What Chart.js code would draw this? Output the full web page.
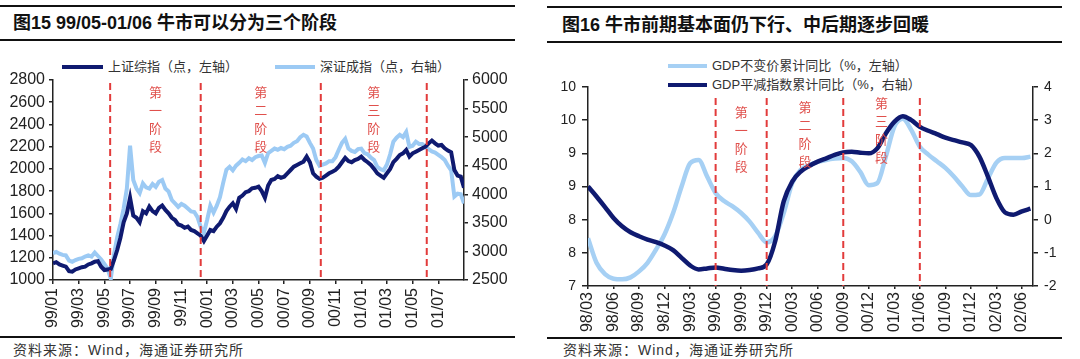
<!DOCTYPE html>
<html>
<head>
<meta charset="utf-8">
<script src="https://cdn.jsdelivr.net/npm/chart.js@4"></script>
<style>
  body { margin:0; width:1080px; height:359px; background:#fff; position:relative; overflow:hidden;
         font-family:"Liberation Sans","Noto Sans CJK SC",sans-serif; }
  .rule { position:absolute; height:2px; background:#111; }
  .title { position:absolute; font-size:18px; font-weight:bold; color:#111; white-space:nowrap; line-height:20px; }
  .source { position:absolute; font-size:14px; color:#333; letter-spacing:1px; white-space:nowrap; line-height:16px; }
  .legend { position:absolute; font-size:13px; color:#333; white-space:nowrap; line-height:16px; display:flex; align-items:center; }
  .legend i { display:inline-block; height:4px; margin-right:5px; }
  canvas { position:absolute; }
</style>
</head>
<body>
<div class="rule" style="left:0;top:5px;width:515px"></div>
<div class="rule" style="left:0;top:39px;width:515px"></div>
<div class="rule" style="left:0;top:336px;width:515px"></div>
<div class="title" style="left:13px;top:13px">图15 99/05-01/06 牛市可以分为三个阶段</div>
<div class="source" style="left:13px;top:342px">资料来源：Wind，海通证券研究所</div>
<div class="legend" style="left:62px;top:59px"><i style="width:41px;background:#0f1a70"></i>上证综指（点，左轴）</div>
<div class="legend" style="left:275px;top:59px"><i style="width:40px;background:#9ccaf4"></i>深证成指（点，右轴）</div>

<div class="rule" style="left:547px;top:6px;width:515px"></div>
<div class="rule" style="left:547px;top:41px;width:515px"></div>
<div class="rule" style="left:547px;top:337px;width:515px"></div>
<div class="title" style="left:562px;top:15px">图16 牛市前期基本面仍下行、中后期逐步回暖</div>
<div class="source" style="left:563px;top:342px">资料来源：Wind，海通证券研究所</div>
<div class="legend" style="left:668px;top:58px"><i style="width:39px;background:#a6d0f4"></i>GDP不变价累计同比（%，左轴）</div>
<div class="legend" style="left:668px;top:77px"><i style="width:39px;background:#0f1a70"></i>GDP平减指数累计同比（%，右轴）</div>

<canvas id="marketChart" width="540" height="292" style="left:0;top:44px"></canvas>
<canvas id="gdpChart" width="535" height="292" style="left:545px;top:44px"></canvas>

<script>
// ---- chart 15: index levels, one value every quarter month from 99/01 ----
const shTicks = ['99/01','99/03','99/05','99/07','99/09','99/11','00/01','00/03','00/05','00/07','00/09','00/11','01/01','01/03','01/05','01/07'];
const shStep = 0.25;
const shComposite = [
  1150,1160,1140,1130, 1120,1080,1075,1095, 1105,1115,1120,1140, 1150,1165,1170,1120,
  1090,1095,1100,1180, 1270,1380,1520,1600, 1740,1580,1560,1520, 1620,1600,1660,1620,
  1600,1650,1670,1630, 1600,1560,1540,1500, 1490,1470,1480,1450, 1440,1420,1400,1350,
  1400,1450,1440,1480, 1510,1560,1620,1660, 1690,1640,1740,1760, 1790,1800,1825,1830,
  1840,1800,1740,1850, 1900,1910,1935,1920, 1930,1960,1990,2020, 2035,2050,2065,2110,
  2060,1960,1930,1910, 1920,1940,1960,1975, 1990,2020,2060,2100, 2070,2060,2080,2090,
  2110,2080,2060,2035, 2000,1960,1940,1920, 1960,2000,2060,2090, 2125,2140,2170,2110,
  2140,2155,2170,2185, 2200,2230,2255,2230, 2210,2215,2185,2165, 2150,1990,1940,1930,
  1830
];
const szComponent = [
  2970,2990,2960,2940, 2930,2840,2820,2850, 2870,2880,2910,2930, 2910,2980,2920,2860,
  2780,2700,2520,2950, 3250,3480,3750,4100, 4850,4250,4100,4020, 4190,4120,4100,4180,
  4130,4220,4250,4100, 4050,3900,3840,3780, 3830,3800,3750,3700, 3690,3600,3430,3330,
  3550,3800,3680,3800, 3950,4200,4430,4480, 4420,4500,4550,4610, 4580,4630,4600,4650,
  4670,4680,4550,4720, 4760,4800,4780,4810, 4790,4830,4850,4900, 4930,5000,5040,5010,
  4900,4800,4600,4500, 4520,4540,4580,4580, 4650,4780,4900,4970, 4800,4760,4740,4790,
  4800,4720,4700,4640, 4600,4480,4440,4420, 4520,4700,4920,4990, 5040,5000,5090,4830,
  4850,4920,4880,4880, 4830,4790,4750,4730, 4690,4650,4600,4500, 4420,3960,4010,4000,
  3840
];
const marketStageMonths = [4.45, 11.5, 20.85, 29.1];

// ---- chart 16: cumulative GDP growth, monthly from 98/03 ----
const gdpTicks = ['98/03','98/06','98/09','98/12','99/03','99/06','99/09','99/12','00/03','00/06','00/09','00/12','01/03','01/06','01/09','01/12','02/03','02/06'];
const gdpLeftTicks = ['7','8','8','9','9','10','10'];
const gdpReal = [
  7.72,7.35,7.18,7.11,7.1,7.13,7.22,7.35,7.55,7.78,
  8.1,8.5,8.85,8.9,8.65,8.4,8.28,8.2,8.1,7.97,
  7.8,7.66,7.75,8.1,8.55,8.75,8.82,8.87,8.9,8.92,
  8.93,8.88,8.72,8.52,8.55,8.95,9.4,9.52,9.35,9.1,
  8.98,8.88,8.78,8.65,8.5,8.37,8.38,8.62,8.86,8.93,
  8.93,8.93,8.95
];
const gdpDeflator = [
  1.0,0.7,0.38,0.05,-0.2,-0.38,-0.5,-0.6,-0.68,-0.78,
  -0.92,-1.15,-1.38,-1.5,-1.47,-1.44,-1.48,-1.52,-1.54,-1.52,
  -1.47,-1.35,-0.65,0.55,1.15,1.45,1.62,1.75,1.85,1.95,
  2.03,2.05,2.02,2.0,2.15,2.6,2.95,3.12,3.0,2.8,
  2.68,2.58,2.47,2.4,2.33,2.25,1.9,1.3,0.65,0.22,
  0.15,0.25,0.33
];
const gdpStageMonths = [15, 21, 30, 39];
const stageNames = ['第一阶段', '第二阶段', '第三阶段'];

const DARK = '#0f1a70';
const AXIS = '#222';
const tickFont = { family: '"Liberation Sans", Arial, sans-serif', size: 16 };

// red dashed separators plus the vertical stage captions
const stagePlugin = {
  id: 'stages',
  afterDatasetsDraw(chart, args, opts) {
    const { ctx, chartArea } = chart;
    const xs = opts.marks.map(v => chart.scales.x.getPixelForValue(v));
    ctx.save();
    ctx.strokeStyle = '#e23b3b';
    ctx.lineWidth = 2;
    ctx.setLineDash([7, 4]);
    xs.forEach(px => {
      ctx.beginPath();
      ctx.moveTo(px, chartArea.top + opts.lineTop);
      ctx.lineTo(px, chartArea.bottom);
      ctx.stroke();
    });
    ctx.fillStyle = '#e0504c';
    ctx.font = '13px "Noto Sans CJK SC"';
    ctx.textAlign = 'center';
    ctx.textBaseline = 'middle';
    stageNames.forEach((name, i) => {
      const cx = (xs[i] + xs[i + 1]) / 2;
      [...name].forEach((ch, j) => {
        ctx.fillText(ch, cx, chartArea.top + opts.textTop[i] + j * 18);
      });
    });
    ctx.restore();
  }
};

function axisGrid(len) {
  return { drawOnChartArea: false, drawTicks: true, tickLength: len, color: AXIS, lineWidth: 1.5 };
}

new Chart(document.getElementById('marketChart'), {
  type: 'line',
  data: {
    datasets: [
      {
        label: '上证综指（点，左轴）',
        data: shComposite.map((v, i) => ({ x: i * shStep, y: v })),
        borderColor: DARK,
        borderWidth: 4,
        yAxisID: 'y'
      },
      {
        label: '深证成指（点，右轴）',
        data: szComponent.map((v, i) => ({ x: i * shStep, y: v })),
        borderColor: '#9ccaf4',
        borderWidth: 4,
        yAxisID: 'y1'
      }
    ]
  },
  options: {
    responsive: false,
    animation: false,
    layout: { padding: { top: 36, left: 0, right: 0, bottom: 0 } },
    elements: { point: { radius: 0 }, line: { tension: 0 } },
    plugins: {
      legend: { display: false },
      tooltip: { enabled: false },
      stages: { marks: marketStageMonths, lineTop: 3, textTop: [12, 12, 12] }
    },
    scales: {
      x: {
        type: 'linear', min: 0, max: 32,
        afterBuildTicks: s => { s.ticks = shTicks.map((_, i) => ({ value: i * 2 })); },
        afterFit: s => { s.height = 56; },
        ticks: { autoSkip: false, minRotation: 90, maxRotation: 90, padding: 4, color: AXIS, font: tickFont,
                 callback: v => shTicks[Math.round(v / 2)] },
        grid: axisGrid(4),
        border: { color: AXIS, width: 1.5 }
      },
      y: {
        position: 'left', min: 1000, max: 2800,
        afterFit: s => { s.width = 53; },
        ticks: { stepSize: 200, padding: 4, color: AXIS, font: tickFont, callback: v => String(v) },
        grid: axisGrid(4),
        border: { color: AXIS, width: 1.5 }
      },
      y1: {
        position: 'right', min: 2500, max: 6000,
        afterFit: s => { s.width = 76; },
        ticks: { stepSize: 500, padding: 4, color: AXIS, font: tickFont, callback: v => String(v) },
        grid: axisGrid(4),
        border: { color: AXIS, width: 1.5 }
      }
    }
  },
  plugins: [stagePlugin]
});

new Chart(document.getElementById('gdpChart'), {
  type: 'line',
  data: {
    datasets: [
      {
        label: 'GDP平减指数累计同比（%，右轴）',
        data: gdpDeflator.map((v, i) => ({ x: i, y: v })),
        borderColor: DARK,
        borderWidth: 4.5,
        yAxisID: 'y1'
      },
      {
        label: 'GDP不变价累计同比（%，左轴）',
        data: gdpReal.map((v, i) => ({ x: i, y: v })),
        borderColor: '#a6d0f4',
        borderWidth: 4.5,
        yAxisID: 'y'
      }
    ]
  },
  options: {
    responsive: false,
    animation: false,
    layout: { padding: { top: 43, left: 0, right: 0, bottom: 0 } },
    elements: { point: { radius: 0 }, line: { cubicInterpolationMode: 'monotone' } },
    plugins: {
      legend: { display: false },
      tooltip: { enabled: false },
      stages: { marks: gdpStageMonths, lineTop: 11, textTop: [25, 20, 16] }
    },
    scales: {
      x: {
        type: 'linear', min: 0, max: 52.3,
        afterBuildTicks: s => { s.ticks = gdpTicks.map((_, i) => ({ value: i * 3 })); },
        afterFit: s => { s.height = 50; },
        ticks: { autoSkip: false, minRotation: 90, maxRotation: 90, padding: 3, color: AXIS, font: tickFont,
                 callback: v => gdpTicks[Math.round(v / 3)] },
        grid: axisGrid(3),
        border: { color: AXIS, width: 1.5 }
      },
      y: {
        position: 'left', min: 7, max: 10,
        afterFit: s => { s.width = 43; },
        ticks: { stepSize: 0.5, padding: 6, color: AXIS, font: { family: tickFont.family, size: 14 },
                 callback: (v, i) => gdpLeftTicks[i] },
        grid: axisGrid(6),
        border: { color: AXIS, width: 1.5 }
      },
      y1: {
        position: 'right', min: -2, max: 4,
        afterFit: s => { s.width = 47; },
        ticks: { stepSize: 1, padding: 6, color: AXIS, font: { family: tickFont.family, size: 14 } },
        grid: axisGrid(5),
        border: { color: AXIS, width: 1.5 }
      }
    }
  },
  plugins: [stagePlugin]
});
</script>
</body>
</html>
